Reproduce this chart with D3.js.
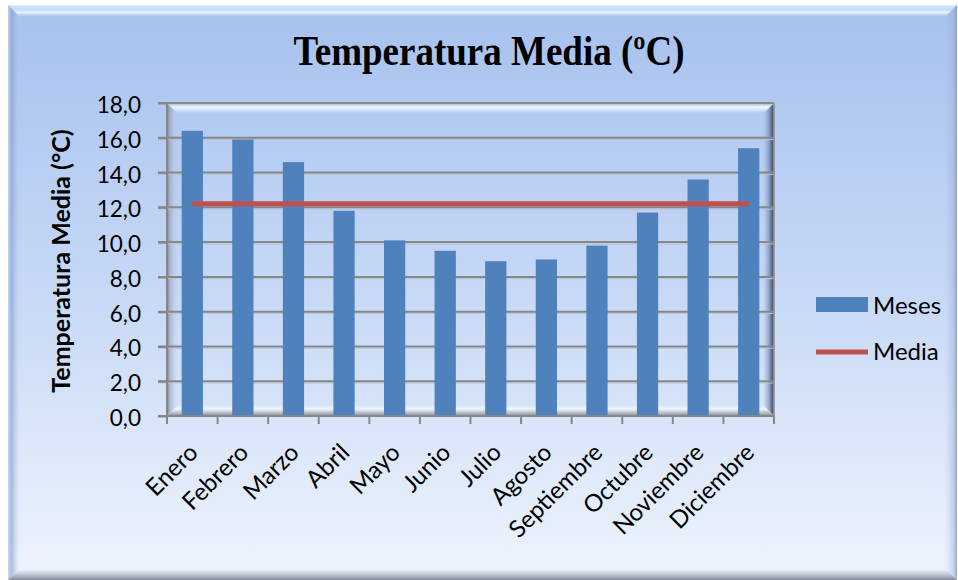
<!DOCTYPE html>
<html>
<head>
<meta charset="utf-8">
<script src="https://cdn.jsdelivr.net/npm/d3@7"></script>
<style>
  body { margin: 0; background: #ffffff; }
  svg { display: block; }
</style>
</head>
<body>
<svg id="chart" width="958" height="580"></svg>
<script>
// Monthly mean temperature (°C) and the annual mean drawn as a line
const meses = ["Enero", "Febrero", "Marzo", "Abril", "Mayo", "Junio",
               "Julio", "Agosto", "Septiembre", "Octubre", "Noviembre", "Diciembre"];
const temperaturas = [16.4, 15.9, 14.6, 11.8, 10.1, 9.5, 8.9, 9.0, 9.8, 11.7, 13.6, 15.4];
const media = [12.2, 12.2, 12.2, 12.2, 12.2, 12.2, 12.2, 12.2, 12.2, 12.2, 12.2, 12.2];
const yTicks = [0, 2, 4, 6, 8, 10, 12, 14, 16, 18];
const legendNames = ["Meses", "Media"];
const titulo = "Temperatura Media (ºC)";
const tituloEjeY = "Temperatura Media (°C)";

const svg = d3.select("#chart");
const defs = svg.append("defs");

const C = { x0: 8, y0: 5, x1: 957, y1: 580 };       // chart area
const P = { x0: 167, y0: 103, x1: 774, y1: 416 };   // plot area
const BAR = "#4F81BD", LINE = "#C0504D";
const SANS = "Lato, 'Open Sans', sans-serif";

function grad(id, x1, y1, x2, y2, stops) {
  const g = defs.append("linearGradient").attr("id", id)
    .attr("x1", x1).attr("y1", y1).attr("x2", x2).attr("y2", y2);
  stops.forEach(s => g.append("stop").attr("offset", s[0])
    .attr("stop-color", s[1]).attr("stop-opacity", s[2] == null ? 1 : s[2]));
  return `url(#${id})`;
}

// ---- chart area background with bevelled edge ----
svg.append("rect")
  .attr("x", C.x0).attr("y", C.y0).attr("width", C.x1 - C.x0).attr("height", C.y1 - C.y0)
  .attr("fill", grad("bg", 0, 0, 0, 1, [
    [0, "#A7C1EE"], [0.45, "#C3D6F5"], [1, "#EEF4FD"]]));

const bw = 12;
const bevel = svg.append("g");
bevel.append("polygon")
  .attr("points", [[C.x0, C.y0], [C.x1, C.y0], [C.x1 - bw, C.y0 + bw], [C.x0 + bw, C.y0 + bw]].join(" "))
  .attr("fill", grad("cTop", 0, 0, 0, 1, [
    [0, "#E4F2FF", 0.9], [0.35, "#C9E0FA", 0.8], [0.65, "#EEF8FF", 0.95], [1, "#B2CBF1", 0]]));
bevel.append("polygon")
  .attr("points", [[C.x0, C.y0], [C.x0 + bw, C.y0 + bw], [C.x0 + bw, C.y1 - bw], [C.x0, C.y1]].join(" "))
  .attr("fill", grad("cLeft", 0, 0, 1, 0, [
    [0, "#C8D6EE", 0.9], [0.35, "#7F98C8", 0.55], [1, "#B8CCF0", 0]]));
bevel.append("polygon")
  .attr("points", [[C.x1, C.y0], [C.x1, C.y1], [C.x1 - bw, C.y1 - bw], [C.x1 - bw, C.y0 + bw]].join(" "))
  .attr("fill", grad("cRight", 0, 0, 1, 0, [
    [0, "#9FB6DE", 0], [0.7, "#9AAED3", 0.45], [1, "#8294B8", 0.8]]));
bevel.append("polygon")
  .attr("points", [[C.x0, C.y1], [C.x0 + bw, C.y1 - bw], [C.x1 - bw, C.y1 - bw], [C.x1, C.y1]].join(" "))
  .attr("fill", grad("cBottom", 0, 0, 0, 1, [
    [0, "#EEF3FB", 0], [0.35, "#C9D0DC", 0.7], [1, "#7F8797", 1]]));

// ---- scales ----
const x = d3.scaleBand().domain(meses).range([P.x0, P.x1]).paddingInner(0.58).paddingOuter(0.29);
const y = d3.scaleLinear().domain([0, 18]).range([P.y1, P.y0]);
const step = x.step();

// ---- plot area bevel ----
const pb = 11;
const pbev = svg.append("g");
pbev.append("polygon")
  .attr("points", [[P.x0, P.y0], [P.x1, P.y0], [P.x1 - pb, P.y0 + pb], [P.x0 + pb, P.y0 + pb]].join(" "))
  .attr("fill", grad("pTop", 0, 0, 0, 1, [
    [0, "#C2DAF6", 0.9], [0.4, "#E8F7FF", 1], [0.65, "#D6EBFD", 0.8], [1, "#B5CCF2", 0]]));
pbev.append("polygon")
  .attr("points", [[P.x0, P.y0], [P.x0 + pb, P.y0 + pb], [P.x0 + pb, P.y1 - pb], [P.x0, P.y1]].join(" "))
  .attr("fill", grad("pLeft", 0, 0, 1, 0, [
    [0, "#6E7888", 0.9], [0.25, "#98A3B8", 0.7], [1, "#BFD2F3", 0]]));
pbev.append("polygon")
  .attr("points", [[P.x1, P.y0], [P.x1, P.y1], [P.x1 - pb, P.y1 - pb], [P.x1 - pb, P.y0 + pb]].join(" "))
  .attr("fill", grad("pRight", 0, 0, 1, 0, [
    [0, "#8FA3C8", 0], [0.5, "#6F82A6", 0.55], [0.85, "#3F4F6E", 0.9], [1, "#7D8594", 1]]));
pbev.append("polygon")
  .attr("points", [[P.x0, P.y1], [P.x0 + pb, P.y1 - pb], [P.x1 - pb, P.y1 - pb], [P.x1, P.y1]].join(" "))
  .attr("fill", grad("pBottom", 0, 0, 0, 1, [
    [0, "#E6EEFA", 0.2], [0.35, "#F4F7FC", 0.9], [0.75, "#AEB4BF", 0.9], [1, "#7C828D", 1]]));

// ---- gridlines ----
const grid = svg.append("g");
grid.selectAll("line.shadow").data(yTicks.filter(d => d > 0)).join("line")
  .attr("class", "shadow")
  .attr("x1", P.x0 - 9).attr("x2", P.x1)
  .attr("y1", d => y(d) + 1.8).attr("y2", d => y(d) + 1.8)
  .attr("stroke", "#B9C3D3").attr("stroke-width", 1);
grid.selectAll("line.major").data(yTicks.filter(d => d > 0)).join("line")
  .attr("class", "major")
  .attr("x1", P.x0 - 9).attr("x2", P.x1)
  .attr("y1", d => y(d)).attr("y2", d => y(d))
  .attr("stroke", "#878787").attr("stroke-width", 2);

// frame lines of the plot area
svg.append("line").attr("x1", P.x0).attr("x2", P.x1).attr("y1", P.y0).attr("y2", P.y0)
  .attr("stroke", "#8C8C8C").attr("stroke-width", 1.5);
svg.append("line").attr("x1", P.x1).attr("x2", P.x1).attr("y1", P.y0).attr("y2", P.y1)
  .attr("stroke", "#8C8C8C").attr("stroke-width", 1.5);

// ---- bars ----
svg.append("g").selectAll("rect").data(meses).join("rect")
  .attr("x", d => x(d)).attr("width", x.bandwidth())
  .attr("y", (d, i) => y(temperaturas[i]))
  .attr("height", (d, i) => y(0) - y(temperaturas[i]))
  .attr("fill", BAR);

// ---- axes ----
const yAxis = svg.append("g").attr("transform", `translate(${P.x0},0)`)
  .call(d3.axisLeft(y).tickValues(yTicks).tickSize(9).tickPadding(17)
    .tickFormat(d => d3.format(".1f")(d).replace(".", ",")));
yAxis.select(".domain").attr("stroke", "#878787").attr("stroke-width", 2)
  .attr("d", `M-9,${P.y0}H0V${P.y1}`);
yAxis.selectAll(".tick line").attr("stroke", "#878787").attr("stroke-width", 2);
yAxis.selectAll(".tick text")
  .attr("font-family", SANS).attr("font-size", 22.5)
  .attr("fill", "#000").attr("dy", "0.42em");

// x axis: line along zero, ticks at category boundaries, rotated labels
const xAxis = svg.append("g");
xAxis.append("line").attr("x1", P.x0 - 9).attr("x2", P.x1).attr("y1", P.y1).attr("y2", P.y1)
  .attr("stroke", "#878787").attr("stroke-width", 2);
const bounds = meses.map(m => x(m) - step * x.paddingInner() / 2).concat([P.x1]);
xAxis.selectAll("line.tk").data(bounds).join("line").attr("class", "tk")
  .attr("x1", d => d).attr("x2", d => d).attr("y1", P.y1).attr("y2", P.y1 + 8)
  .attr("stroke", "#878787").attr("stroke-width", 2);
xAxis.selectAll("text").data(meses).join("text")
  .attr("transform", d => `translate(${x(d) + x.bandwidth() / 2 + 7},${P.y1 + 38}) rotate(-45)`)
  .attr("text-anchor", "end")
  .attr("font-family", SANS).attr("font-size", 24)
  .attr("fill", "#000").text(d => d);

// ---- mean line ----
const lineGen = d3.line().x((d, i) => x(meses[i]) + x.bandwidth() / 2).y(d => y(d));
svg.append("path").datum(media).attr("d", lineGen)
  .attr("fill", "none").attr("stroke", LINE).attr("stroke-width", 5);

// ---- titles ----
svg.append("text").attr("transform", "translate(489,65) scale(1,1.13)")
  .attr("text-anchor", "middle")
  .attr("font-family", "'Liberation Serif', 'Times New Roman', serif")
  .attr("font-weight", "bold").attr("font-size", 37).attr("fill", "#000")
  .text(titulo);

svg.append("text").attr("transform", "translate(70,261) rotate(-90)")
  .attr("text-anchor", "middle")
  .attr("font-family", SANS)
  .attr("font-weight", "bold").attr("font-size", 25).attr("fill", "#000")
  .text(tituloEjeY);

// ---- legend ----
const lg = svg.append("g").attr("transform", "translate(816,0)");
lg.append("rect").attr("x", 0).attr("y", 297).attr("width", 52).attr("height", 15).attr("fill", BAR);
lg.append("line").attr("x1", 0).attr("x2", 52).attr("y1", 352).attr("y2", 352)
  .attr("stroke", LINE).attr("stroke-width", 5);
lg.selectAll("text").data(legendNames).join("text")
  .attr("x", 57).attr("y", (d, i) => i === 0 ? 313.5 : 359.5)
  .attr("font-family", SANS).attr("font-size", 24)
  .attr("fill", "#000").text(d => d);
</script>
</body>
</html>
